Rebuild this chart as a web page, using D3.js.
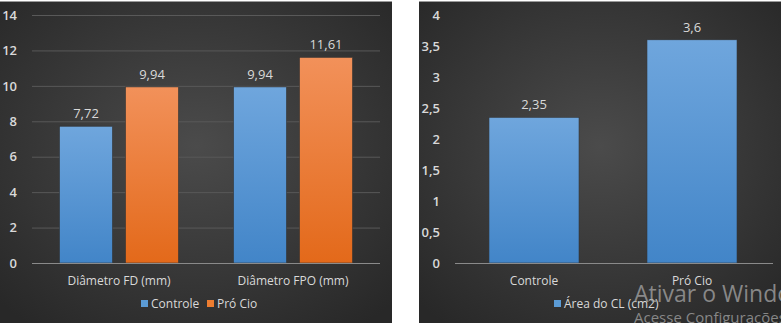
<!DOCTYPE html>
<html><head><meta charset="utf-8">
<script src="https://cdn.jsdelivr.net/npm/d3@7"></script>
<style>
body{margin:0;background:#fff;}
svg{display:block;}
text{font-family:"Open Sans",sans-serif;}
</style></head>
<body>
<svg id="c" width="781" height="323"></svg>
<script>
// Left chart data
const leftCategories = ["Diâmetro FD (mm)", "Diâmetro FPO (mm)"];
const leftSeries = ["Controle", "Pró Cio"];
const controleValues = [7.72, 9.94];
const proCioValues = [9.94, 11.61];
const leftTicks = [0, 2, 4, 6, 8, 10, 12, 14];

// Right chart data
const rightCategories = ["Controle", "Pró Cio"];
const areaValues = [2.35, 3.6];
const rightTicks = [0, 0.5, 1, 1.5, 2, 2.5, 3, 3.5, 4];
const rightSeries = "Área do CL (cm2)";

const fmt = v => String(v).replace(".", ",");
const svg = d3.select("#c");
const defs = svg.append("defs");

const bg = defs.append("radialGradient").attr("id","bg").attr("cx","50%").attr("cy","45%").attr("r","70%");
bg.append("stop").attr("offset","0%").attr("stop-color","#4b4b4b");
bg.append("stop").attr("offset","100%").attr("stop-color","#282828");

const gb = defs.append("linearGradient").attr("id","gblue").attr("x1",0).attr("y1",0).attr("x2",0).attr("y2",1);
gb.append("stop").attr("offset","0%").attr("stop-color","#6fa6dd");
gb.append("stop").attr("offset","100%").attr("stop-color","#4285c8");
const go = defs.append("linearGradient").attr("id","gorange").attr("x1",0).attr("y1",0).attr("x2",0).attr("y2",1);
go.append("stop").attr("offset","0%").attr("stop-color","#f2915a");
go.append("stop").attr("offset","100%").attr("stop-color","#e3691a");

const colors = {"Controle":"url(#gblue)","Pró Cio":"url(#gorange)"};
const solid = {"Controle":"#5b9bd5","Pró Cio":"#ed7d31"};
const txt = "#d9d9d9";

// ---------- Left panel ----------
svg.append("rect").attr("x",0).attr("y",1).attr("width",392).attr("height",322).attr("fill","url(#bg)");
svg.append("line").attr("x1",0).attr("x2",392).attr("y1",1.5).attr("y2",1.5).attr("stroke","#9a9a9a").attr("stroke-width",1);

const L = {x0:32, x1:380, y0:263, y1:15};
const xL = d3.scaleBand().domain(leftCategories).range([L.x0, L.x1]).paddingInner(0).paddingOuter(0);
const xLs = d3.scaleBand().domain(leftSeries).range([27.5, xL.bandwidth()-27.5]).paddingInner(0.197).paddingOuter(0);
const yL = d3.scaleLinear().domain([0,14]).range([L.y0, L.y1]);

const gL = svg.append("g");
gL.append("g").selectAll("line").data(leftTicks.filter(t=>t>0)).join("line")
  .attr("x1",L.x0).attr("x2",L.x1).attr("y1",d=>yL(d)+0.5).attr("y2",d=>yL(d)+0.5)
  .attr("stroke","#595959").attr("stroke-width",1);

const yAxL = gL.append("g").attr("transform",`translate(${L.x0-12},0)`)
  .call(d3.axisLeft(yL).tickValues(leftTicks).tickSize(0).tickFormat(fmt));
yAxL.select(".domain").remove();
yAxL.selectAll("text").attr("fill",txt).attr("font-size","13px").attr("font-weight","600").attr("font-family","Open Sans");

const rowsL = leftCategories.map((c,i)=>({cat:c, vals:[{s:"Controle",v:controleValues[i]},{s:"Pró Cio",v:proCioValues[i]}]}));
const grp = gL.selectAll("g.grp").data(rowsL).join("g").attr("class","grp")
  .attr("transform",d=>`translate(${xL(d.cat)},0)`);
grp.selectAll("rect").data(d=>d.vals).join("rect")
  .attr("x",d=>xLs(d.s)).attr("width",xLs.bandwidth())
  .attr("y",d=>yL(d.v)).attr("height",d=>yL(0)-yL(d.v))
  .attr("fill",d=>colors[d.s]).attr("stroke","#333").attr("stroke-width",0.6);
grp.selectAll("text").data(d=>d.vals).join("text")
  .attr("x",d=>xLs(d.s)+xLs.bandwidth()/2).attr("y",d=>yL(d.v)-8)
  .attr("text-anchor","middle").attr("fill",txt).attr("font-size","13px").text(d=>fmt(d.v));

gL.append("line").attr("x1",L.x0).attr("x2",L.x1).attr("y1",L.y0+0.5).attr("y2",L.y0+0.5).attr("stroke","#8a8a8a");

const xAxL = gL.append("g").attr("transform",`translate(0,${L.y0+10})`)
  .call(d3.axisBottom(xL).tickSize(0));
xAxL.select(".domain").remove();
xAxL.selectAll("text").attr("fill",txt).attr("font-size","12px").attr("font-family","Open Sans");

const legL = gL.append("g").attr("transform","translate(141,300)");
const legItems = [{s:"Controle",x:0},{s:"Pró Cio",x:66}];
legItems.forEach(it=>{
  legL.append("rect").attr("x",it.x).attr("y",0).attr("width",7).attr("height",7).attr("fill",solid[it.s]);
  legL.append("text").attr("x",it.x+10).attr("y",8).attr("fill",txt).attr("font-size","12px").text(it.s);
});

// ---------- Right panel ----------
svg.append("rect").attr("x",419).attr("y",1).attr("width",362).attr("height",322).attr("fill","url(#bg)");
svg.append("line").attr("x1",419).attr("x2",781).attr("y1",1.5).attr("y2",1.5).attr("stroke","#9a9a9a");

const R = {x0:455, x1:771, y0:263, y1:15};
const xR = d3.scaleBand().domain(rightCategories).range([R.x0,R.x1]).paddingInner(0.43).paddingOuter(0.215);
const yR = d3.scaleLinear().domain([0,4]).range([R.y0,R.y1]);
const gR = svg.append("g");

const yAxR = gR.append("g").attr("transform",`translate(${R.x0-12},0)`)
  .call(d3.axisLeft(yR).tickValues(rightTicks).tickSize(0).tickFormat(fmt));
yAxR.select(".domain").remove();
yAxR.selectAll("text").attr("fill",txt).attr("font-size","13px").attr("font-weight","600").attr("font-family","Open Sans");

const rowsR = rightCategories.map((c,i)=>({cat:c,v:areaValues[i]}));
gR.selectAll("rect.bar").data(rowsR).join("rect").attr("class","bar")
  .attr("x",d=>xR(d.cat)).attr("width",xR.bandwidth())
  .attr("y",d=>yR(d.v)).attr("height",d=>yR(0)-yR(d.v))
  .attr("fill","url(#gblue)").attr("stroke","#333").attr("stroke-width",0.6);
gR.selectAll("text.lbl").data(rowsR).join("text").attr("class","lbl")
  .attr("x",d=>xR(d.cat)+xR.bandwidth()/2).attr("y",d=>yR(d.v)-8)
  .attr("text-anchor","middle").attr("fill",txt).attr("font-size","13px").text(d=>fmt(d.v));

gR.append("line").attr("x1",R.x0).attr("x2",R.x1+2).attr("y1",R.y0+0.5).attr("y2",R.y0+0.5).attr("stroke","#8a8a8a");

const xAxR = gR.append("g").attr("transform",`translate(0,${R.y0+10})`)
  .call(d3.axisBottom(xR).tickSize(0));
xAxR.select(".domain").remove();
xAxR.selectAll("text").attr("fill",txt).attr("font-size","12px").attr("font-family","Open Sans");

gR.append("rect").attr("x",554).attr("y",300).attr("width",7).attr("height",7).attr("fill","#5b9bd5");
gR.append("text").attr("x",564).attr("y",308).attr("fill",txt).attr("font-size","12px").text(rightSeries);

// watermark (present in the reference screenshot)
svg.append("text").attr("x",634).attr("y",302).attr("fill","#a6a6a6").attr("fill-opacity",0.75)
  .attr("font-family","Open Sans").attr("font-size","23px").text("Ativar o Windows");
svg.append("text").attr("x",634).attr("y",323).attr("fill","#a6a6a6").attr("fill-opacity",0.75)
  .attr("font-family","Open Sans").attr("font-size","15px").text("Acesse Configurações");
</script>
</body></html>
